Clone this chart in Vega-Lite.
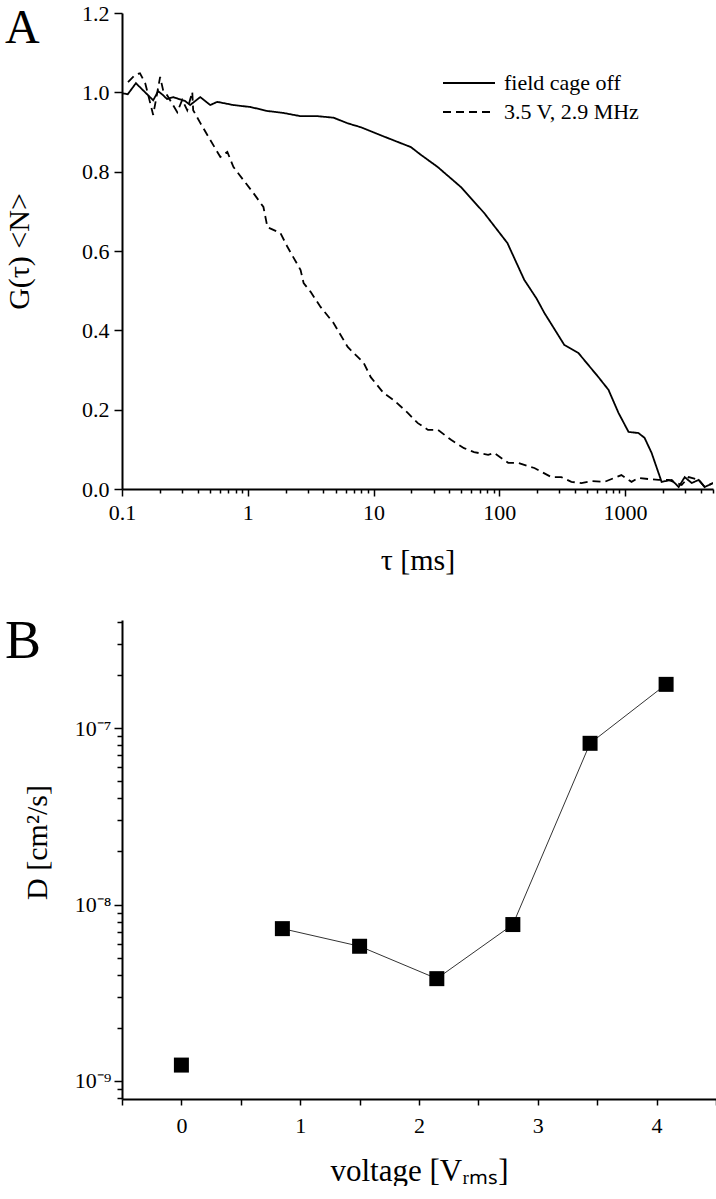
{
  "$schema": "https://vega.github.io/schema/vega-lite/v6.json",
  "background": "white",
  "padding": {"left": 4, "top": 2, "right": 0, "bottom": 0},
  "spacing": 131,
  "bounds": "flush",
  "config": {
    "font": "Liberation Serif",
    "view": {"stroke": null}
  },
  "vconcat": [
    {
      "width": 591,
      "height": 476,
      "layer": [
        {
          "data": {"values": [
            {"series": "field cage off", "tau": 0.1, "G": 0.998},
            {"series": "field cage off", "tau": 0.111, "G": 0.995},
            {"series": "field cage off", "tau": 0.129, "G": 1.023},
            {"series": "field cage off", "tau": 0.177, "G": 0.98},
            {"series": "field cage off", "tau": 0.194, "G": 1.003},
            {"series": "field cage off", "tau": 0.212, "G": 0.993},
            {"series": "field cage off", "tau": 0.228, "G": 0.983},
            {"series": "field cage off", "tau": 0.255, "G": 0.988},
            {"series": "field cage off", "tau": 0.318, "G": 0.978},
            {"series": "field cage off", "tau": 0.348, "G": 0.968},
            {"series": "field cage off", "tau": 0.419, "G": 0.988},
            {"series": "field cage off", "tau": 0.503, "G": 0.968},
            {"series": "field cage off", "tau": 0.572, "G": 0.976},
            {"series": "field cage off", "tau": 0.768, "G": 0.968},
            {"series": "field cage off", "tau": 1.05, "G": 0.963},
            {"series": "field cage off", "tau": 1.43, "G": 0.953},
            {"series": "field cage off", "tau": 1.92, "G": 0.948},
            {"series": "field cage off", "tau": 2.62, "G": 0.94},
            {"series": "field cage off", "tau": 3.58, "G": 0.94},
            {"series": "field cage off", "tau": 4.81, "G": 0.936},
            {"series": "field cage off", "tau": 6.22, "G": 0.922},
            {"series": "field cage off", "tau": 7.92, "G": 0.912},
            {"series": "field cage off", "tau": 12.0, "G": 0.889},
            {"series": "field cage off", "tau": 19.8, "G": 0.862},
            {"series": "field cage off", "tau": 23.9, "G": 0.842},
            {"series": "field cage off", "tau": 32.3, "G": 0.812},
            {"series": "field cage off", "tau": 49.6, "G": 0.761},
            {"series": "field cage off", "tau": 75.7, "G": 0.696},
            {"series": "field cage off", "tau": 116, "G": 0.62},
            {"series": "field cage off", "tau": 158, "G": 0.527},
            {"series": "field cage off", "tau": 197, "G": 0.481},
            {"series": "field cage off", "tau": 228, "G": 0.444},
            {"series": "field cage off", "tau": 329, "G": 0.363},
            {"series": "field cage off", "tau": 425, "G": 0.343},
            {"series": "field cage off", "tau": 614, "G": 0.282},
            {"series": "field cage off", "tau": 738, "G": 0.25},
            {"series": "field cage off", "tau": 886, "G": 0.192},
            {"series": "field cage off", "tau": 1065, "G": 0.144},
            {"series": "field cage off", "tau": 1279, "G": 0.141},
            {"series": "field cage off", "tau": 1428, "G": 0.129},
            {"series": "field cage off", "tau": 1625, "G": 0.091},
            {"series": "field cage off", "tau": 1951, "G": 0.018},
            {"series": "field cage off", "tau": 2345, "G": 0.023},
            {"series": "field cage off", "tau": 2667, "G": 0.005},
            {"series": "field cage off", "tau": 2979, "G": 0.03},
            {"series": "field cage off", "tau": 3387, "G": 0.015},
            {"series": "field cage off", "tau": 3849, "G": 0.023},
            {"series": "field cage off", "tau": 4297, "G": 0.005},
            {"series": "field cage off", "tau": 5000, "G": 0.015},
            {"series": "3.5 V, 2.9 MHz", "tau": 0.1116, "G": 1.026},
            {"series": "3.5 V, 2.9 MHz", "tau": 0.127, "G": 1.044},
            {"series": "3.5 V, 2.9 MHz", "tau": 0.139, "G": 1.048},
            {"series": "3.5 V, 2.9 MHz", "tau": 0.153, "G": 1.023},
            {"series": "3.5 V, 2.9 MHz", "tau": 0.177, "G": 0.943},
            {"series": "3.5 V, 2.9 MHz", "tau": 0.201, "G": 1.039},
            {"series": "3.5 V, 2.9 MHz", "tau": 0.212, "G": 1.006},
            {"series": "3.5 V, 2.9 MHz", "tau": 0.228, "G": 0.993},
            {"series": "3.5 V, 2.9 MHz", "tau": 0.275, "G": 0.95},
            {"series": "3.5 V, 2.9 MHz", "tau": 0.301, "G": 0.981},
            {"series": "3.5 V, 2.9 MHz", "tau": 0.33, "G": 0.955},
            {"series": "3.5 V, 2.9 MHz", "tau": 0.362, "G": 1.001},
            {"series": "3.5 V, 2.9 MHz", "tau": 0.368, "G": 0.955},
            {"series": "3.5 V, 2.9 MHz", "tau": 0.419, "G": 0.923},
            {"series": "3.5 V, 2.9 MHz", "tau": 0.503, "G": 0.88},
            {"series": "3.5 V, 2.9 MHz", "tau": 0.605, "G": 0.837},
            {"series": "3.5 V, 2.9 MHz", "tau": 0.688, "G": 0.85},
            {"series": "3.5 V, 2.9 MHz", "tau": 0.768, "G": 0.812},
            {"series": "3.5 V, 2.9 MHz", "tau": 0.922, "G": 0.779},
            {"series": "3.5 V, 2.9 MHz", "tau": 1.109, "G": 0.746},
            {"series": "3.5 V, 2.9 MHz", "tau": 1.332, "G": 0.711},
            {"series": "3.5 V, 2.9 MHz", "tau": 1.433, "G": 0.66},
            {"series": "3.5 V, 2.9 MHz", "tau": 1.82, "G": 0.645},
            {"series": "3.5 V, 2.9 MHz", "tau": 2.07, "G": 0.61},
            {"series": "3.5 V, 2.9 MHz", "tau": 2.63, "G": 0.552},
            {"series": "3.5 V, 2.9 MHz", "tau": 2.78, "G": 0.519},
            {"series": "3.5 V, 2.9 MHz", "tau": 3.16, "G": 0.497},
            {"series": "3.5 V, 2.9 MHz", "tau": 3.79, "G": 0.459},
            {"series": "3.5 V, 2.9 MHz", "tau": 4.82, "G": 0.418},
            {"series": "3.5 V, 2.9 MHz", "tau": 6.23, "G": 0.358},
            {"series": "3.5 V, 2.9 MHz", "tau": 7.48, "G": 0.333},
            {"series": "3.5 V, 2.9 MHz", "tau": 8.35, "G": 0.318},
            {"series": "3.5 V, 2.9 MHz", "tau": 9.5, "G": 0.282},
            {"series": "3.5 V, 2.9 MHz", "tau": 12.0, "G": 0.242},
            {"series": "3.5 V, 2.9 MHz", "tau": 14.5, "G": 0.224},
            {"series": "3.5 V, 2.9 MHz", "tau": 18.7, "G": 0.192},
            {"series": "3.5 V, 2.9 MHz", "tau": 22.5, "G": 0.166},
            {"series": "3.5 V, 2.9 MHz", "tau": 27.1, "G": 0.149},
            {"series": "3.5 V, 2.9 MHz", "tau": 32.5, "G": 0.149},
            {"series": "3.5 V, 2.9 MHz", "tau": 41.3, "G": 0.124},
            {"series": "3.5 V, 2.9 MHz", "tau": 52.4, "G": 0.103},
            {"series": "3.5 V, 2.9 MHz", "tau": 63.0, "G": 0.093},
            {"series": "3.5 V, 2.9 MHz", "tau": 81.5, "G": 0.086},
            {"series": "3.5 V, 2.9 MHz", "tau": 90.9, "G": 0.091},
            {"series": "3.5 V, 2.9 MHz", "tau": 117.6, "G": 0.066},
            {"series": "3.5 V, 2.9 MHz", "tau": 141, "G": 0.066},
            {"series": "3.5 V, 2.9 MHz", "tau": 179, "G": 0.055},
            {"series": "3.5 V, 2.9 MHz", "tau": 190, "G": 0.053},
            {"series": "3.5 V, 2.9 MHz", "tau": 259, "G": 0.03},
            {"series": "3.5 V, 2.9 MHz", "tau": 311, "G": 0.03},
            {"series": "3.5 V, 2.9 MHz", "tau": 374, "G": 0.018},
            {"series": "3.5 V, 2.9 MHz", "tau": 449, "G": 0.015},
            {"series": "3.5 V, 2.9 MHz", "tau": 540, "G": 0.02},
            {"series": "3.5 V, 2.9 MHz", "tau": 685, "G": 0.018},
            {"series": "3.5 V, 2.9 MHz", "tau": 823, "G": 0.028},
            {"series": "3.5 V, 2.9 MHz", "tau": 935, "G": 0.035},
            {"series": "3.5 V, 2.9 MHz", "tau": 1125, "G": 0.018},
            {"series": "3.5 V, 2.9 MHz", "tau": 1279, "G": 0.028},
            {"series": "3.5 V, 2.9 MHz", "tau": 1538, "G": 0.025},
            {"series": "3.5 V, 2.9 MHz", "tau": 1846, "G": 0.023},
            {"series": "3.5 V, 2.9 MHz", "tau": 2219, "G": 0.023},
            {"series": "3.5 V, 2.9 MHz", "tau": 2818, "G": 0.01},
            {"series": "3.5 V, 2.9 MHz", "tau": 3205, "G": 0.03},
            {"series": "3.5 V, 2.9 MHz", "tau": 3849, "G": 0.023},
            {"series": "3.5 V, 2.9 MHz", "tau": 4297, "G": 0.005},
            {"series": "3.5 V, 2.9 MHz", "tau": 5000, "G": 0.015}
          ]},
          "mark": {"type": "line", "color": "black", "strokeWidth": 1.8, "clip": true},
          "encoding": {
            "x": {
              "field": "tau", "type": "quantitative",
              "scale": {"type": "log", "domain": [0.1, 5000], "nice": false},
              "axis": {
                "title": "τ [ms]",
                "grid": false, "labelOverlap": false, "labelFlush": false,
                "domainColor": "black", "domainWidth": 2, "tickColor": "black", "tickWidth": 1.5,
                "labelColor": "black", "titleColor": "black",
                "labelFont": "Liberation Serif", "titleFont": "Liberation Serif",
                "labelFontSize": 22, "titleFontSize": 30, "titleFontWeight": "normal",
                "values": [0.1,0.2,0.3,0.4,0.5,0.6,0.7,0.8,0.9,1,2,3,4,5,6,7,8,9,10,20,30,40,50,60,70,80,90,100,200,300,400,500,600,700,800,900,1000,2000,3000,4000,5000],
                "labelExpr": "abs(log(datum.value)/LN10 - round(log(datum.value)/LN10)) < 0.001 ? (datum.value < 1 ? '0.1' : format(datum.value, 'd')) : ''",
                "tickSize": {"condition": {"test": "abs(log(datum.value)/LN10 - round(log(datum.value)/LN10)) < 0.001", "value": 7}, "value": 4},
                "labelPadding": 6,
                "titlePadding": 22
              }
            },
            "y": {
              "field": "G", "type": "quantitative",
              "scale": {"domain": [0, 1.2], "nice": false, "zero": false},
              "axis": {
                "title": "G(τ) <N>",
                "grid": false, "labelOverlap": false,
                "domainColor": "black", "domainWidth": 2, "tickColor": "black", "tickWidth": 1.5,
                "labelColor": "black", "titleColor": "black",
                "labelFont": "Liberation Serif", "titleFont": "Liberation Serif",
                "labelFontSize": 22, "titleFontSize": 30, "titleFontWeight": "normal",
                "values": [0,0.1,0.2,0.3,0.4,0.5,0.6,0.7,0.8,0.9,1.0,1.1,1.2],
                "labelExpr": "round(datum.value*10) % 2 == 0 ? format(datum.value, '.1f') : ''",
                "tickSize": {"condition": {"test": "round(datum.value*10) % 2 == 0", "value": 8}, "value": 5},
                "labelPadding": 5,
                "titlePadding": 47
              }
            },
            "strokeDash": {
              "field": "series", "type": "nominal",
              "scale": {"domain": ["field cage off", "3.5 V, 2.9 MHz"], "range": [[1, 0], [8, 5]]},
              "legend": {
                "title": null, "orient": "none", "legendX": 336, "legendY": 59,
                "symbolType": "M-5.2,0H5.2", "symbolSize": 100, "symbolStrokeWidth": 2,
                "symbolStrokeColor": "black", "symbolFillColor": "transparent",
                "labelFont": "Liberation Serif", "labelFontSize": 22, "labelColor": "black",
                "labelOffset": 24, "rowPadding": 7
              }
            }
          }
        },
        {
          "data": {"values": [{"panel": "A"}]},
          "mark": {"type": "text", "font": "Liberation Serif", "fontSize": 48, "color": "black", "align": "left", "baseline": "alphabetic", "dx": -117, "dy": 30},
          "encoding": {
            "x": {"datum": 0.1},
            "y": {"datum": 1.2},
            "text": {"field": "panel"}
          }
        }
      ]
    },
    {
      "width": 594,
      "height": 479,
      "layer": [
        {
          "data": {"values": [
            {"V": 0, "D": 1.23e-9, "grp": "a"},
            {"V": 0.85, "D": 7.3e-9, "grp": "b"},
            {"V": 1.5, "D": 5.8e-9, "grp": "b"},
            {"V": 2.15, "D": 3.8e-9, "grp": "b"},
            {"V": 2.79, "D": 7.7e-9, "grp": "b"},
            {"V": 3.44, "D": 8.2e-8, "grp": "b"},
            {"V": 4.08, "D": 1.77e-7, "grp": "b"}
          ]},
          "encoding": {
            "x": {
              "field": "V", "type": "quantitative",
              "scale": {"domain": [-0.5, 4.5], "nice": false, "zero": false},
              "axis": {
                "title": "voltage [Vᵣₘₛ]",
                "grid": false, "labelOverlap": false, "labelFlush": false,
                "domainColor": "black", "domainWidth": 2, "tickColor": "black", "tickWidth": 1.5,
                "labelColor": "black", "titleColor": "black",
                "labelFont": "Liberation Serif", "titleFont": "Liberation Serif",
                "labelFontSize": 22, "titleFontSize": 31, "titleFontWeight": "normal",
                "values": [-0.5,0,0.5,1,1.5,2,2.5,3,3.5,4,4.5],
                "labelExpr": "datum.value % 1 == 0 ? format(datum.value, 'd') : ''",
                "tickSize": 6,
                "labelPadding": 10,
                "titlePadding": 20
              }
            },
            "y": {
              "field": "D", "type": "quantitative",
              "scale": {"type": "log", "domain": [7.9e-10, 4.1e-7], "nice": false},
              "axis": {
                "title": "D [cm²/s]",
                "grid": false, "labelOverlap": false,
                "domainColor": "black", "domainWidth": 2, "tickColor": "black", "tickWidth": 1.5,
                "labelColor": "black", "titleColor": "black",
                "labelFont": "Liberation Serif", "titleFont": "Liberation Serif",
                "labelFontSize": 22, "titleFontSize": 30, "titleFontWeight": "normal",
                "values": [8e-10,9e-10,1e-9,2e-9,3e-9,4e-9,5e-9,6e-9,7e-9,8e-9,9e-9,1e-8,2e-8,3e-8,4e-8,5e-8,6e-8,7e-8,8e-8,9e-8,1e-7,2e-7,3e-7,4e-7],
                "labelExpr": "abs(log(datum.value)/LN10 - round(log(datum.value)/LN10)) < 0.001 ? ('10' + (round(log(datum.value)/LN10) == -9 ? '⁻⁹' : round(log(datum.value)/LN10) == -8 ? '⁻⁸' : '⁻⁷')) : ''",
                "tickSize": {"condition": {"test": "abs(log(datum.value)/LN10 - round(log(datum.value)/LN10)) < 0.001", "value": 8}, "value": 5},
                "labelPadding": 3,
                "titlePadding": 22,
                "titleY": 222
              }
            }
          },
          "layer": [
            {
              "transform": [{"filter": "datum.grp == 'b'"}],
              "mark": {"type": "line", "color": "#333333", "strokeWidth": 1}
            },
            {
              "mark": {"type": "point", "shape": "square", "filled": true, "size": 225, "color": "black", "opacity": 1}
            }
          ]
        },
        {
          "data": {"values": [{"panel": "B"}]},
          "mark": {"type": "text", "font": "Liberation Serif", "fontSize": 54, "color": "black", "align": "left", "baseline": "alphabetic", "dx": -117, "dy": 38},
          "encoding": {
            "x": {"datum": -0.5},
            "y": {"datum": 4.1e-7},
            "text": {"field": "panel"}
          }
        }
      ]
    }
  ]
}
